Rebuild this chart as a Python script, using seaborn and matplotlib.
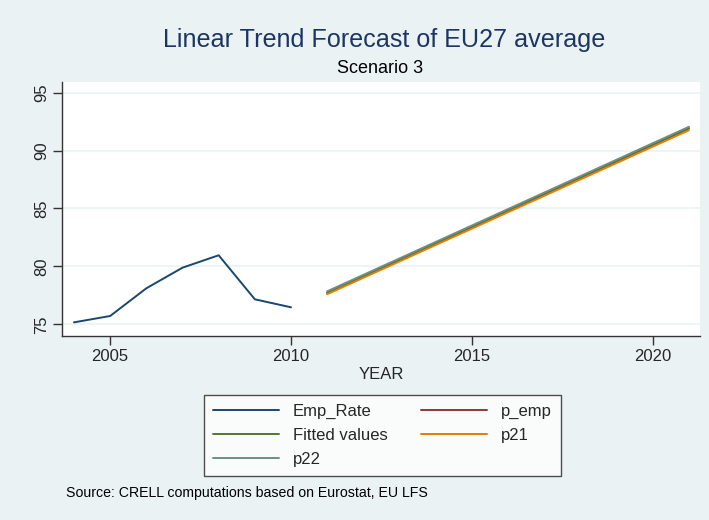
import pandas as pd
import matplotlib.pyplot as plt
import seaborn as sns

# observed employment rate
years_obs = [2004, 2005, 2006, 2007, 2008, 2009, 2010]
emp_rate = [75.17, 75.72, 78.11, 79.89, 80.96, 77.16, 76.47]

# forecast years and linear trends
years_fc = [2011, 2012, 2013, 2014, 2015, 2016, 2017, 2018, 2019, 2020, 2021]
p_emp = [77.70, 79.12, 80.54, 81.96, 83.38, 84.80, 86.22, 87.64, 89.06, 90.48, 91.90]
fitted = [77.75, 79.17, 80.59, 82.01, 83.43, 84.85, 86.27, 87.69, 89.11, 90.53, 91.95]
p21 = [77.60, 79.02, 80.43, 81.85, 83.26, 84.68, 86.09, 87.51, 88.92, 90.34, 91.75]
p22 = [77.85, 79.27, 80.69, 82.11, 83.53, 84.95, 86.37, 87.79, 89.21, 90.63, 92.05]

sns.set_style("white")
plt.rcParams['font.family'] = ['Liberation Sans', 'DejaVu Sans']

bg = '#eaf2f3'
fig = plt.figure(figsize=(7.09, 5.2), dpi=100, facecolor=bg)
ax = fig.add_axes([0.0875, 0.354, 0.8995, 0.488])
ax.set_facecolor('white')

obs = pd.DataFrame({'YEAR': years_obs, 'Emp_Rate': emp_rate})
fc = pd.DataFrame({'YEAR': years_fc, 'p_emp': p_emp, 'Fitted values': fitted,
                   'p21': p21, 'p22': p22})

sns.lineplot(data=obs, x='YEAR', y='Emp_Rate', color='#1a476f', lw=1.4, ax=ax, label='Emp_Rate')
sns.lineplot(data=fc, x='YEAR', y='p_emp', color='#90353b', lw=1.4, ax=ax, label='p_emp')
sns.lineplot(data=fc, x='YEAR', y='Fitted values', color='#55752f', lw=1.4, ax=ax, label='Fitted values')
sns.lineplot(data=fc, x='YEAR', y='p21', color='#e37e00', lw=1.4, ax=ax, label='p21')
sns.lineplot(data=fc, x='YEAR', y='p22', color='#6e8e84', lw=1.4, ax=ax, label='p22')

ax.set_xlim(2003.67, 2021.3)
ax.set_ylim(74.0, 95.9)
ax.set_xticks([2005, 2010, 2015, 2020])
ax.set_yticks([75, 80, 85, 90, 95])
ax.yaxis.grid(True, color=bg, lw=1.2)
ax.set_axisbelow(True)
for s in ['top', 'right']:
    ax.spines[s].set_visible(False)
for s in ['left', 'bottom']:
    ax.spines[s].set_color('#333333')
    ax.spines[s].set_linewidth(1.0)
ax.tick_params(axis='both', direction='out', length=6.5, width=1, color='#333333',
               labelsize=12, left=True, bottom=True, pad=3)
plt.setp(ax.get_yticklabels(), rotation=90, va='center')
ax.set_xlabel('YEAR', fontsize=12, labelpad=2)
ax.set_ylabel('')

# legend in Stata order (two columns)
h, l = ax.get_legend_handles_labels()
d = dict(zip(l, h))
order = ['Emp_Rate', 'Fitted values', 'p22', 'p_emp', 'p21']
ax.get_legend().remove()
leg = fig.legend([d[k] for k in order], order, ncol=2, loc='center',
                 bbox_to_anchor=(0.539, 0.1625), fontsize=12, frameon=True,
                 fancybox=False, edgecolor='#222222', handlelength=4.0,
                 columnspacing=2.0, labelspacing=0.55, borderpad=0.55)
leg.get_frame().set_linewidth(1.0)

fig.text(0.5416, 0.924, 'Linear Trend Forecast of EU27 average', ha='center', va='center',
         fontsize=18.1, color='#1c3664')
fig.text(0.536, 0.868, 'Scenario 3', ha='center', va='center', fontsize=13, color='black')
fig.text(0.093, 0.052, 'Source: CRELL computations based on Eurostat, EU LFS', ha='left',
         va='center', fontsize=10.2, color='black')

fig.savefig('out.png', dpi=100, facecolor=bg)
